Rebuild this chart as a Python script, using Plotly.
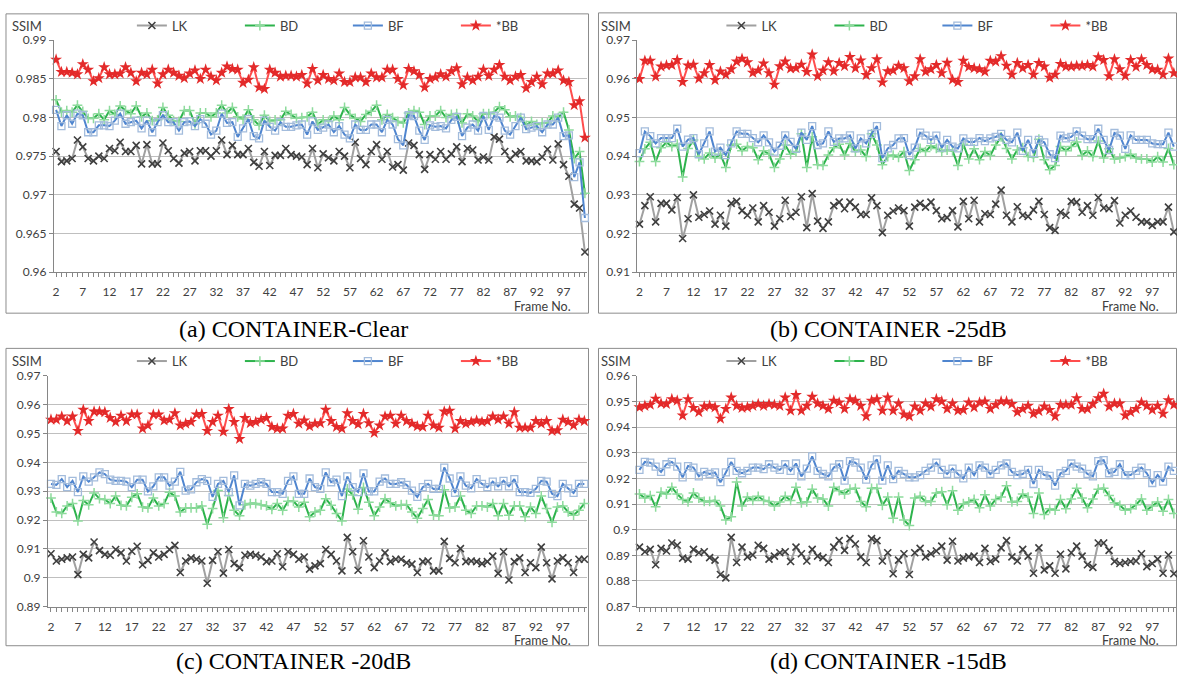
import plotly.graph_objects as go

W, H = 1177, 685

# frame index shared by every series (frames 2..101)
FRAMES = list(range(2, 102))
X_TICK_STEP = 5
SERIES_NAMES = ["LK", "BD", "BF", "*BB"]

# ---- (a) CONTAINER, clean ----
LK_CLEAR = [0.9756, 0.9743, 0.9744, 0.9747, 0.9771, 0.9762, 0.9747, 0.9744, 0.9750, 0.9747,
            0.9760, 0.9757, 0.9768, 0.9756, 0.9756, 0.9764, 0.9740, 0.9765, 0.9740, 0.9740,
            0.9767, 0.9757, 0.9747, 0.9741, 0.9754, 0.9756, 0.9744, 0.9757, 0.9757, 0.9750,
            0.9757, 0.9771, 0.9752, 0.9764, 0.9752, 0.9752, 0.9760, 0.9742, 0.9737, 0.9756,
            0.9738, 0.9751, 0.9751, 0.9760, 0.9752, 0.9750,
            0.9749, 0.9739, 0.9760, 0.9735, 0.9753, 0.9748, 0.9744, 0.9756, 0.9750, 0.9735,
            0.9768, 0.9747, 0.9739, 0.9756, 0.9765, 0.9746, 0.9756, 0.9736, 0.9739, 0.9732,
            0.9767, 0.9764, 0.9752, 0.9733, 0.9752, 0.9746, 0.9756, 0.9746, 0.9753, 0.9762,
            0.9743, 0.9760, 0.9758, 0.9745, 0.9749, 0.9745, 0.9775, 0.9772, 0.9756, 0.9746,
            0.9753, 0.9756, 0.9744, 0.9744, 0.9743, 0.9749, 0.9759, 0.9745, 0.9766, 0.9739,
            0.9724, 0.9688, 0.9683, 0.9626]
BD_CLEAR = [0.9823, 0.9807, 0.9809, 0.9807, 0.9816, 0.9808, 0.9799, 0.9799, 0.9805, 0.9797,
            0.9809, 0.9804, 0.9815, 0.9809, 0.9805, 0.9815, 0.9801, 0.9806, 0.9796, 0.9797,
            0.9813, 0.9803, 0.9796, 0.9795, 0.9809, 0.9809, 0.9792, 0.9806, 0.9806, 0.9801,
            0.9806, 0.9816, 0.9806, 0.9813, 0.9801, 0.9798, 0.9810, 0.9797, 0.9790, 0.9803,
            0.9795, 0.9797, 0.9797, 0.9808, 0.9804, 0.9799,
            0.9800, 0.9801, 0.9807, 0.9791, 0.9797, 0.9795, 0.9802, 0.9797, 0.9813, 0.9804,
            0.9799, 0.9795, 0.9804, 0.9808, 0.9816, 0.9797, 0.9804, 0.9800, 0.9795, 0.9793,
            0.9806, 0.9809, 0.9807, 0.9791, 0.9802, 0.9802, 0.9809, 0.9800, 0.9804, 0.9805,
            0.9793, 0.9805, 0.9802, 0.9795, 0.9805, 0.9805, 0.9807, 0.9814, 0.9810, 0.9801,
            0.9802, 0.9800, 0.9790, 0.9795, 0.9791, 0.9793, 0.9793, 0.9802, 0.9800, 0.9807,
            0.9784, 0.9747, 0.9756, 0.9702]
BF_CLEAR = [0.9810, 0.9789, 0.9803, 0.9792, 0.9805, 0.9803, 0.9781, 0.9781, 0.9790, 0.9790,
            0.9789, 0.9796, 0.9805, 0.9792, 0.9794, 0.9796, 0.9786, 0.9796, 0.9781, 0.9794,
            0.9803, 0.9794, 0.9794, 0.9783, 0.9794, 0.9795, 0.9789, 0.9798, 0.9792, 0.9778,
            0.9783, 0.9805, 0.9793, 0.9794, 0.9775, 0.9786, 0.9798, 0.9776, 0.9773, 0.9796,
            0.9788, 0.9783, 0.9794, 0.9788, 0.9788, 0.9790,
            0.9791, 0.9778, 0.9795, 0.9784, 0.9787, 0.9791, 0.9781, 0.9789, 0.9778, 0.9773,
            0.9791, 0.9784, 0.9784, 0.9791, 0.9791, 0.9781, 0.9797, 0.9791, 0.9772, 0.9764,
            0.9803, 0.9802, 0.9783, 0.9771, 0.9790, 0.9788, 0.9789, 0.9786, 0.9797, 0.9801,
            0.9776, 0.9787, 0.9791, 0.9783, 0.9802, 0.9784, 0.9802, 0.9800, 0.9783, 0.9778,
            0.9789, 0.9800, 0.9785, 0.9787, 0.9789, 0.9781, 0.9791, 0.9791, 0.9800, 0.9776,
            0.9777, 0.9723, 0.9742, 0.9670]
BB_CLEAR = [0.9875, 0.9859, 0.9859, 0.9858, 0.9856, 0.9869, 0.9862, 0.9847, 0.9851, 0.9865,
            0.9856, 0.9856, 0.9857, 0.9865, 0.9858, 0.9847, 0.9858, 0.9856, 0.9862, 0.9844,
            0.9856, 0.9862, 0.9858, 0.9854, 0.9851, 0.9857, 0.9861, 0.9850, 0.9862, 0.9853,
            0.9848, 0.9858, 0.9866, 0.9863, 0.9862, 0.9845, 0.9849, 0.9865, 0.9839, 0.9837,
            0.9862, 0.9858, 0.9853, 0.9854, 0.9854, 0.9853,
            0.9855, 0.9844, 0.9863, 0.9848, 0.9855, 0.9850, 0.9848, 0.9857, 0.9846, 0.9846,
            0.9852, 0.9852, 0.9846, 0.9857, 0.9852, 0.9852, 0.9862, 0.9862, 0.9850, 0.9842,
            0.9863, 0.9860, 0.9855, 0.9839, 0.9850, 0.9852, 0.9856, 0.9853, 0.9860, 0.9864,
            0.9843, 0.9852, 0.9848, 0.9853, 0.9862, 0.9854, 0.9862, 0.9868, 0.9853, 0.9848,
            0.9853, 0.9855, 0.9838, 0.9846, 0.9853, 0.9843, 0.9857, 0.9857, 0.9861, 0.9848,
            0.9846, 0.9816, 0.9821, 0.9774]

# ---- (b) CONTAINER, -25 dB ----
LK_25DB = [0.9224, 0.9272, 0.9295, 0.9230, 0.9278, 0.9278, 0.9261, 0.9293, 0.9187, 0.9238,
           0.9300, 0.9242, 0.9249, 0.9258, 0.9224, 0.9247, 0.9219, 0.9278, 0.9283, 0.9259,
           0.9247, 0.9266, 0.9230, 0.9272, 0.9255, 0.9219, 0.9238, 0.9286, 0.9244, 0.9255,
           0.9295, 0.9215, 0.9303, 0.9232, 0.9213, 0.9230, 0.9272, 0.9281, 0.9264, 0.9281,
           0.9268, 0.9249, 0.9249, 0.9292, 0.9272, 0.9202, 0.9247, 0.9258,
           0.9266, 0.9259, 0.9219, 0.9268, 0.9278, 0.9268, 0.9281, 0.9259, 0.9238, 0.9241,
           0.9259, 0.9217, 0.9283, 0.9238, 0.9286, 0.9230, 0.9251, 0.9249, 0.9276, 0.9312,
           0.9247, 0.9230, 0.9269, 0.9247, 0.9244, 0.9261, 0.9283, 0.9249, 0.9215, 0.9208,
           0.9255, 0.9247, 0.9283, 0.9281, 0.9255, 0.9272, 0.9247, 0.9293, 0.9266, 0.9264,
           0.9285, 0.9227, 0.9247, 0.9258, 0.9242, 0.9230, 0.9230, 0.9221, 0.9230, 0.9230,
           0.9268, 0.9204]
BD_25DB = [0.9386, 0.9419, 0.9436, 0.9386, 0.9422, 0.9436, 0.9425, 0.9431, 0.9346, 0.9420,
           0.9442, 0.9399, 0.9393, 0.9408, 0.9395, 0.9405, 0.9371, 0.9429, 0.9431, 0.9414,
           0.9425, 0.9422, 0.9391, 0.9414, 0.9405, 0.9371, 0.9393, 0.9429, 0.9405, 0.9412,
           0.9458, 0.9371, 0.9450, 0.9378, 0.9376, 0.9403, 0.9422, 0.9431, 0.9403, 0.9433,
           0.9412, 0.9416, 0.9399, 0.9458, 0.9429, 0.9378, 0.9399, 0.9403,
           0.9397, 0.9412, 0.9363, 0.9391, 0.9420, 0.9412, 0.9427, 0.9420, 0.9412, 0.9416,
           0.9414, 0.9376, 0.9431, 0.9393, 0.9419, 0.9391, 0.9412, 0.9402, 0.9429, 0.9450,
           0.9420, 0.9393, 0.9416, 0.9422, 0.9399, 0.9397, 0.9444, 0.9391, 0.9365, 0.9376,
           0.9425, 0.9414, 0.9425, 0.9437, 0.9402, 0.9414, 0.9399, 0.9439, 0.9395, 0.9419,
           0.9393, 0.9395, 0.9399, 0.9405, 0.9395, 0.9393, 0.9393, 0.9385, 0.9399, 0.9385,
           0.9420, 0.9378]
BF_25DB = [0.9408, 0.9464, 0.9452, 0.9433, 0.9447, 0.9447, 0.9447, 0.9471, 0.9425, 0.9443,
           0.9447, 0.9405, 0.9433, 0.9464, 0.9412, 0.9422, 0.9403, 0.9433, 0.9464, 0.9458,
           0.9458, 0.9447, 0.9436, 0.9454, 0.9436, 0.9412, 0.9427, 0.9454, 0.9437, 0.9419,
           0.9461, 0.9442, 0.9478, 0.9429, 0.9433, 0.9464, 0.9437, 0.9446, 0.9446, 0.9454,
           0.9420, 0.9446, 0.9433, 0.9458, 0.9478, 0.9395, 0.9420, 0.9429,
           0.9446, 0.9447, 0.9403, 0.9422, 0.9461, 0.9453, 0.9442, 0.9453, 0.9422, 0.9442,
           0.9425, 0.9420, 0.9446, 0.9437, 0.9437, 0.9447, 0.9439, 0.9446, 0.9450, 0.9458,
           0.9442, 0.9436, 0.9461, 0.9414, 0.9442, 0.9408, 0.9442, 0.9436, 0.9405, 0.9395,
           0.9453, 0.9446, 0.9450, 0.9464, 0.9453, 0.9444, 0.9444, 0.9471, 0.9442, 0.9416,
           0.9460, 0.9453, 0.9419, 0.9454, 0.9442, 0.9442, 0.9442, 0.9433, 0.9431, 0.9431,
           0.9461, 0.9425]
BB_25DB = [0.9600, 0.9647, 0.9647, 0.9606, 0.9632, 0.9635, 0.9636, 0.9649, 0.9592, 0.9635,
           0.9637, 0.9601, 0.9615, 0.9636, 0.9597, 0.9619, 0.9611, 0.9625, 0.9645, 0.9652,
           0.9643, 0.9616, 0.9622, 0.9640, 0.9615, 0.9585, 0.9633, 0.9645, 0.9627, 0.9628,
           0.9637, 0.9618, 0.9663, 0.9607, 0.9622, 0.9643, 0.9620, 0.9641, 0.9633, 0.9657,
           0.9628, 0.9648, 0.9610, 0.9628, 0.9651, 0.9591, 0.9620, 0.9622,
           0.9634, 0.9628, 0.9594, 0.9607, 0.9651, 0.9619, 0.9625, 0.9636, 0.9615, 0.9642,
           0.9598, 0.9592, 0.9647, 0.9631, 0.9628, 0.9625, 0.9619, 0.9647, 0.9645, 0.9659,
           0.9634, 0.9611, 0.9641, 0.9628, 0.9636, 0.9611, 0.9641, 0.9632, 0.9603, 0.9611,
           0.9639, 0.9632, 0.9632, 0.9634, 0.9634, 0.9636, 0.9632, 0.9656, 0.9649, 0.9607,
           0.9651, 0.9625, 0.9608, 0.9649, 0.9631, 0.9651, 0.9636, 0.9625, 0.9624, 0.9611,
           0.9653, 0.9615]

# ---- (c) CONTAINER, -20 dB ----
LK_20DB = [0.9083, 0.9058, 0.9064, 0.9069, 0.9072, 0.9011, 0.9081, 0.9069, 0.9124, 0.9094,
           0.9081, 0.9078, 0.9098, 0.9086, 0.9058, 0.9092, 0.9109, 0.9045, 0.9060, 0.9086,
           0.9072, 0.9081, 0.9098, 0.9112, 0.9018, 0.9058, 0.9069, 0.9064, 0.9058, 0.8981,
           0.9060, 0.9090, 0.9016, 0.9098, 0.9049, 0.9035, 0.9078, 0.9081, 0.9078, 0.9072,
           0.9056, 0.9058, 0.9083, 0.9038, 0.9090, 0.9081, 0.9064,
           0.9072, 0.9030, 0.9041, 0.9049, 0.9098, 0.9081, 0.9058, 0.9024, 0.9140, 0.9090,
           0.9026, 0.9128, 0.9072, 0.9035, 0.9058, 0.9086, 0.9056, 0.9064, 0.9064, 0.9052,
           0.9047, 0.9018, 0.9056, 0.9058, 0.9024, 0.9024, 0.9126, 0.9067, 0.9052, 0.9101,
           0.9056, 0.9058, 0.9056, 0.9049, 0.9056, 0.9075, 0.9015, 0.9090, 0.8992, 0.9056,
           0.9069, 0.9018, 0.9052, 0.9035, 0.9106, 0.9052, 0.8996, 0.9058, 0.9069, 0.9052,
           0.9018, 0.9064, 0.9064]
BD_20DB = [0.9276, 0.9228, 0.9223, 0.9249, 0.9257, 0.9197, 0.9268, 0.9253, 0.9294, 0.9274,
           0.9271, 0.9257, 0.9283, 0.9251, 0.9249, 0.9279, 0.9291, 0.9245, 0.9242, 0.9276,
           0.9249, 0.9257, 0.9296, 0.9283, 0.9228, 0.9242, 0.9242, 0.9242, 0.9249, 0.9185,
           0.9240, 0.9302, 0.9208, 0.9285, 0.9234, 0.9215, 0.9253, 0.9257, 0.9257, 0.9253,
           0.9249, 0.9237, 0.9257, 0.9234, 0.9265, 0.9265, 0.9245,
           0.9262, 0.9211, 0.9228, 0.9234, 0.9274, 0.9251, 0.9223, 0.9197, 0.9308, 0.9287,
           0.9237, 0.9313, 0.9262, 0.9215, 0.9245, 0.9274, 0.9260, 0.9249, 0.9253, 0.9253,
           0.9228, 0.9206, 0.9240, 0.9271, 0.9217, 0.9215, 0.9305, 0.9242, 0.9245, 0.9283,
           0.9234, 0.9223, 0.9249, 0.9249, 0.9245, 0.9257, 0.9215, 0.9257, 0.9217, 0.9249,
           0.9249, 0.9211, 0.9245, 0.9223, 0.9283, 0.9240, 0.9192, 0.9245, 0.9249, 0.9228,
           0.9217, 0.9234, 0.9257]
BF_20DB = [0.9325, 0.9322, 0.9342, 0.9314, 0.9336, 0.9297, 0.9351, 0.9333, 0.9348, 0.9365,
           0.9359, 0.9340, 0.9336, 0.9336, 0.9333, 0.9314, 0.9340, 0.9340, 0.9299, 0.9317,
           0.9348, 0.9348, 0.9319, 0.9333, 0.9367, 0.9302, 0.9306, 0.9331, 0.9342, 0.9336,
           0.9280, 0.9325, 0.9336, 0.9297, 0.9355, 0.9251, 0.9325, 0.9319, 0.9325, 0.9331,
           0.9325, 0.9297, 0.9297, 0.9291, 0.9336, 0.9351, 0.9291,
           0.9291, 0.9344, 0.9314, 0.9308, 0.9365, 0.9331, 0.9340, 0.9283, 0.9351, 0.9314,
           0.9297, 0.9362, 0.9299, 0.9299, 0.9333, 0.9344, 0.9325, 0.9325, 0.9331, 0.9322,
           0.9302, 0.9280, 0.9314, 0.9325, 0.9308, 0.9308, 0.9382, 0.9344, 0.9294, 0.9351,
           0.9319, 0.9310, 0.9342, 0.9325, 0.9314, 0.9333, 0.9317, 0.9336, 0.9317, 0.9342,
           0.9297, 0.9297, 0.9294, 0.9308, 0.9336, 0.9333, 0.9291, 0.9283, 0.9325, 0.9310,
           0.9294, 0.9325, 0.9325]
BB_20DB = [0.9548, 0.9548, 0.9559, 0.9543, 0.9559, 0.9509, 0.9582, 0.9543, 0.9576, 0.9576,
           0.9574, 0.9554, 0.9540, 0.9562, 0.9543, 0.9566, 0.9566, 0.9517, 0.9528, 0.9566,
           0.9566, 0.9545, 0.9548, 0.9570, 0.9528, 0.9534, 0.9540, 0.9566, 0.9568, 0.9509,
           0.9540, 0.9562, 0.9506, 0.9585, 0.9540, 0.9481, 0.9554, 0.9536, 0.9540, 0.9548,
           0.9554, 0.9523, 0.9517, 0.9517, 0.9562, 0.9568, 0.9534,
           0.9545, 0.9525, 0.9534, 0.9536, 0.9582, 0.9543, 0.9523, 0.9517, 0.9570, 0.9543,
           0.9532, 0.9568, 0.9536, 0.9502, 0.9528, 0.9559, 0.9562, 0.9534, 0.9562, 0.9543,
           0.9534, 0.9525, 0.9523, 0.9562, 0.9528, 0.9520, 0.9576, 0.9579, 0.9517, 0.9543,
           0.9534, 0.9540, 0.9545, 0.9540, 0.9543, 0.9559, 0.9548, 0.9559, 0.9534, 0.9574,
           0.9520, 0.9520, 0.9520, 0.9543, 0.9534, 0.9543, 0.9509, 0.9511, 0.9548, 0.9540,
           0.9528, 0.9548, 0.9543]

# ---- (d) CONTAINER, -15 dB ----
LK_15DB = [0.8932, 0.8914, 0.8923, 0.8863, 0.8927, 0.8917, 0.8948, 0.8939, 0.8889, 0.8885,
           0.8923, 0.8910, 0.8914, 0.8891, 0.8881, 0.8825, 0.8812, 0.8970, 0.8872, 0.8932,
           0.8894, 0.8901, 0.8939, 0.8927, 0.8885, 0.8897, 0.8910, 0.8914, 0.8876, 0.8932,
           0.8906, 0.8878, 0.8923, 0.8897, 0.8891, 0.8872, 0.8932, 0.8957, 0.8919, 0.8965,
           0.8944, 0.8894, 0.8872, 0.8965, 0.8957, 0.8878, 0.8910, 0.8828,
           0.8881, 0.8906, 0.8825, 0.8910, 0.8927, 0.8894, 0.8906, 0.8917, 0.8936, 0.8881,
           0.8955, 0.8878, 0.8889, 0.8894, 0.8897, 0.8872, 0.8927, 0.8876, 0.8885, 0.8929,
           0.8957, 0.8894, 0.8878, 0.8923, 0.8897, 0.8830, 0.8929, 0.8843, 0.8859, 0.8830,
           0.8904, 0.8847, 0.8910, 0.8936, 0.8897, 0.8863, 0.8853, 0.8948, 0.8948, 0.8919,
           0.8876, 0.8868, 0.8872, 0.8876, 0.8878, 0.8906, 0.8856, 0.8868, 0.8885, 0.8830,
           0.8901, 0.8828]
BD_15DB = [0.9139, 0.9123, 0.9133, 0.9089, 0.9146, 0.9139, 0.9165, 0.9139, 0.9118, 0.9108,
           0.9143, 0.9123, 0.9110, 0.9110, 0.9114, 0.9092, 0.9038, 0.9050, 0.9186, 0.9092,
           0.9127, 0.9114, 0.9130, 0.9114, 0.9110, 0.9092, 0.9108, 0.9130, 0.9114, 0.9165,
           0.9105, 0.9108, 0.9158, 0.9123, 0.9120, 0.9092, 0.9165, 0.9152, 0.9139, 0.9158,
           0.9161, 0.9110, 0.9089, 0.9161, 0.9161, 0.9095, 0.9127, 0.9044,
           0.9127, 0.9038, 0.9016, 0.9123, 0.9130, 0.9110, 0.9110, 0.9143, 0.9148, 0.9097,
           0.9152, 0.9076, 0.9101, 0.9108, 0.9118, 0.9085, 0.9136, 0.9092, 0.9118, 0.9127,
           0.9171, 0.9108, 0.9110, 0.9139, 0.9127, 0.9063, 0.9143, 0.9059, 0.9082, 0.9076,
           0.9118, 0.9082, 0.9120, 0.9161, 0.9123, 0.9085, 0.9120, 0.9158, 0.9161, 0.9133,
           0.9105, 0.9095, 0.9076, 0.9082, 0.9097, 0.9120, 0.9076, 0.9092, 0.9108, 0.9072,
           0.9118, 0.9063]
BF_15DB = [0.9233, 0.9264, 0.9261, 0.9246, 0.9225, 0.9255, 0.9264, 0.9246, 0.9204, 0.9248,
           0.9242, 0.9208, 0.9225, 0.9217, 0.9223, 0.9185, 0.9223, 0.9264, 0.9229, 0.9220,
           0.9229, 0.9242, 0.9242, 0.9236, 0.9255, 0.9242, 0.9233, 0.9255, 0.9229, 0.9258,
           0.9208, 0.9238, 0.9286, 0.9229, 0.9217, 0.9208, 0.9242, 0.9255, 0.9191, 0.9267,
           0.9261, 0.9242, 0.9195, 0.9251, 0.9274, 0.9191, 0.9251, 0.9197,
           0.9229, 0.9217, 0.9204, 0.9204, 0.9213, 0.9229, 0.9242, 0.9261, 0.9233, 0.9217,
           0.9238, 0.9217, 0.9200, 0.9242, 0.9213, 0.9251, 0.9242, 0.9217, 0.9233, 0.9251,
           0.9258, 0.9225, 0.9213, 0.9217, 0.9233, 0.9178, 0.9233, 0.9213, 0.9210, 0.9172,
           0.9220, 0.9229, 0.9258, 0.9246, 0.9238, 0.9217, 0.9208, 0.9267, 0.9271, 0.9220,
           0.9225, 0.9255, 0.9213, 0.9213, 0.9229, 0.9242, 0.9220, 0.9182, 0.9213, 0.9187,
           0.9246, 0.9229]
BB_15DB = [0.9477, 0.9483, 0.9487, 0.9511, 0.9492, 0.9490, 0.9509, 0.9503, 0.9445, 0.9509,
           0.9475, 0.9458, 0.9480, 0.9483, 0.9477, 0.9433, 0.9471, 0.9515, 0.9483, 0.9475,
           0.9477, 0.9483, 0.9490, 0.9483, 0.9490, 0.9487, 0.9483, 0.9515, 0.9464, 0.9525,
           0.9464, 0.9483, 0.9518, 0.9492, 0.9483, 0.9471, 0.9503, 0.9496, 0.9471, 0.9509,
           0.9503, 0.9483, 0.9442, 0.9503, 0.9509, 0.9464, 0.9515, 0.9464,
           0.9492, 0.9449, 0.9442, 0.9480, 0.9464, 0.9492, 0.9480, 0.9509, 0.9500, 0.9471,
           0.9492, 0.9464, 0.9467, 0.9496, 0.9477, 0.9496, 0.9500, 0.9471, 0.9487, 0.9500,
           0.9500, 0.9490, 0.9458, 0.9471, 0.9483, 0.9452, 0.9462, 0.9480, 0.9467, 0.9442,
           0.9487, 0.9487, 0.9487, 0.9513, 0.9471, 0.9471, 0.9490, 0.9513, 0.9530, 0.9480,
           0.9492, 0.9492, 0.9445, 0.9458, 0.9471, 0.9496, 0.9483, 0.9467, 0.9483, 0.9452,
           0.9505, 0.9487]

# ---- panel layout (pixel geometry of the 1177 x 685 page) ----
PANELS = [
    dict(caption="(a) CONTAINER-Clear", series=[LK_CLEAR, BD_CLEAR, BF_CLEAR, BB_CLEAR],
         yrange=(0.96, 0.99), ystep=0.005, xrange=(1.6, 101.3),
         box=(5, 6, 588, 312), plot=(53, 586, 33, 270), cap=(293, 328),
         legx=131, ssim_right=43, frame_right=572),
    dict(caption="(b) CONTAINER -25dB", series=[LK_25DB, BD_25DB, BF_25DB, BB_25DB],
         yrange=(0.91, 0.97), ystep=0.01, xrange=(1.63, 101.4),
         box=(598, 5, 1176.5, 312), plot=(637, 1176, 33, 270), cap=(888, 328),
         legx=721, ssim_right=633, frame_right=1161),
    dict(caption="(c) CONTAINER -20dB", series=[LK_20DB, BD_20DB, BF_20DB, BB_20DB],
         yrange=(0.89, 0.97), ystep=0.01, xrange=(1.44, 101.4),
         box=(5, 348, 588, 652), plot=(47, 586, 376, 612), cap=(293, 668),
         legx=131, ssim_right=43, frame_right=572),
    dict(caption="(d) CONTAINER -15dB", series=[LK_15DB, BD_15DB, BF_15DB, BB_15DB],
         yrange=(0.87, 0.96), ystep=0.01, xrange=(1.63, 101.4),
         box=(598, 348, 1176.5, 652), plot=(637, 1176, 376, 612), cap=(888, 668),
         legx=721, ssim_right=633, frame_right=1161),
]

TRACE_STYLE = [
    dict(line=dict(color="#a0a0a0", width=2),
         marker=dict(symbol="x-thin", size=7, color="#3f3f3f",
                     line=dict(color="#3f3f3f", width=1.6))),
    dict(line=dict(color="#2db34c", width=2),
         marker=dict(symbol="cross-thin", size=7, color="#8ddb9c",
                     line=dict(color="#8ddb9c", width=1.5))),
    dict(line=dict(color="#4f85cf", width=2),
         marker=dict(symbol="square-open", size=7, color="#a3bcdc",
                     line=dict(color="#a3bcdc", width=1.3))),
    dict(line=dict(color="#ff4d4d", width=2),
         marker=dict(symbol="star", size=9, color="#e32a2a",
                     line=dict(color="#e32a2a", width=0))),
]

FONT = "Lato"
CAPTION_FONT = "Times New Roman, Liberation Serif, serif"
TEXT_GREY = "#404040"
AXIS_GREY = "#868686"
GRID_GREY = "#bfbfbf"


def px(x):
    return x / W


def py(y):
    return 1 - y / H


def excel_label(v):
    return f"{v:.3f}".rstrip("0").rstrip(".")


fig = go.Figure()
shapes, annotations = [], []

for i, p in enumerate(PANELS):
    n = "" if i == 0 else str(i + 1)
    legend_id = "legend" + n
    xa, ya = "x" + n, "y" + n

    for name, vals, st in zip(SERIES_NAMES, p["series"], TRACE_STYLE):
        fig.add_trace(go.Scatter(
            x=FRAMES[:len(vals)], y=vals, name=name, mode="lines+markers",
            xaxis=xa, yaxis=ya, legend=legend_id, cliponaxis=False,
            line=st["line"], marker=st["marker"], hoverinfo="skip"))

    x0, x1, y0, y1 = p["plot"]
    lo, hi = p["yrange"]
    nsteps = int(round((hi - lo) / p["ystep"]))
    yticks = [round(lo + k * p["ystep"], 4) for k in range(nsteps + 1)]

    fig.update_layout(**{
        "xaxis" + n: dict(
            domain=[px(x0), px(x1)], range=list(p["xrange"]), anchor=ya,
            tickmode="linear", tick0=FRAMES[0], dtick=X_TICK_STEP,
            showgrid=False, zeroline=False, showline=True, linecolor=AXIS_GREY, linewidth=1,
            ticks="outside", ticklen=4, tickcolor=AXIS_GREY, ticklabelstandoff=5,
            minor=dict(dtick=1, tick0=FRAMES[0], ticks="outside", ticklen=4,
                       tickcolor=AXIS_GREY, showgrid=False),
            tickfont=dict(family=FONT, size=12, color=TEXT_GREY), fixedrange=True),
        "yaxis" + n: dict(
            domain=[py(y1), py(y0)], range=[lo, hi], anchor=xa,
            tickmode="array", tickvals=yticks, ticktext=[excel_label(v) for v in yticks],
            showgrid=True, gridcolor=GRID_GREY, gridwidth=1, zeroline=False,
            showline=True, linecolor=AXIS_GREY, linewidth=1,
            ticks="outside", ticklen=4, tickcolor=AXIS_GREY,
            tickfont=dict(family=FONT, size=12, color=TEXT_GREY), fixedrange=True),
        legend_id: dict(
            orientation="h", x=px(p["legx"]), y=py(y0 - 15),
            xanchor="left", yanchor="middle", bgcolor="rgba(0,0,0,0)",
            font=dict(family=FONT, size=13, color=TEXT_GREY),
            itemwidth=30, entrywidth=63, entrywidthmode="pixels",
            traceorder="normal", itemclick=False, itemdoubleclick=False),
    })

    bx0, by0, bx1, by1 = p["box"]
    shapes.append(dict(type="rect", xref="paper", yref="paper",
                       x0=px(bx0), x1=px(bx1), y0=py(by1), y1=py(by0),
                       line=dict(color="#8c8c8c", width=1), layer="below"))

    annotations.append(dict(text="SSIM", xref="paper", yref="paper",
                            x=px(p["ssim_right"]), y=py(y0 - 15), xanchor="right",
                            yanchor="middle", showarrow=False,
                            font=dict(family=FONT, size=13, color=TEXT_GREY)))
    annotations.append(dict(text="Frame No.", xref="paper", yref="paper",
                            x=px(p["frame_right"]), y=py(y1 + 35),
                            xanchor="right", yanchor="middle", showarrow=False,
                            font=dict(family=FONT, size=12.5, color=TEXT_GREY)))
    cx, cy = p["cap"]
    annotations.append(dict(text=p["caption"], xref="paper", yref="paper",
                            x=px(cx), y=py(cy), xanchor="center", yanchor="middle",
                            showarrow=False,
                            font=dict(family=CAPTION_FONT, size=24, color="#000000")))

fig.update_layout(
    width=W, height=H, autosize=False,
    margin=dict(l=0, r=0, t=0, b=0),
    paper_bgcolor="white", plot_bgcolor="white",
    shapes=shapes, annotations=annotations,
)

fig.write_html("out.html")
